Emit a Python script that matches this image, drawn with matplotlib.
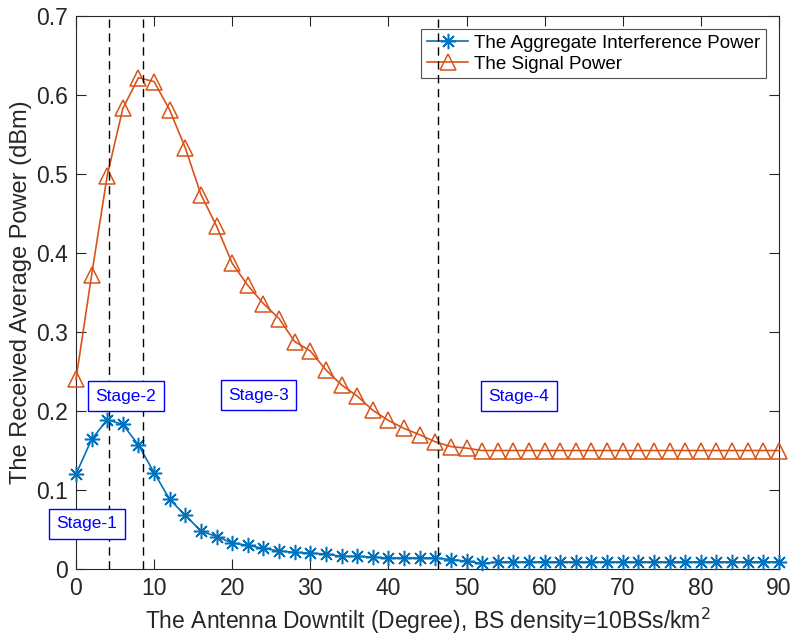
import numpy as np
import matplotlib.pyplot as plt

plt.rcParams['font.family'] = ['Liberation Sans', 'DejaVu Sans']

tilt = np.arange(0, 92, 2)

interference = [0.120, 0.164, 0.189, 0.183, 0.157, 0.122, 0.088, 0.068,
                0.048, 0.041, 0.033, 0.030, 0.026, 0.023, 0.021, 0.020,
                0.019, 0.016, 0.016, 0.015, 0.014, 0.014, 0.014, 0.014,
                0.012, 0.010, 0.007] + [0.009] * 19

signal = [0.240, 0.372, 0.498, 0.583, 0.622, 0.617, 0.581, 0.533,
          0.474, 0.434, 0.387, 0.359, 0.336, 0.317, 0.288, 0.276,
          0.252, 0.233, 0.219, 0.201, 0.188, 0.178, 0.170, 0.161,
          0.155, 0.153] + [0.150] * 20

stage_bounds = [4.2, 8.6, 46.4]
stage_names = ['Stage-1', 'Stage-2', 'Stage-3', 'Stage-4']
stage_pos = [(1.4, 0.057), (6.4, 0.219), (23.4, 0.220), (56.7, 0.219)]

fig = plt.figure(figsize=(7.93, 6.42), dpi=100)
ax = fig.add_axes([0.0958, 0.1137, 0.8865, 0.8613])

ax.plot(tilt, interference, color='#0072BD', lw=1.2, marker=(8, 2, 0),
        ms=11, mew=1.1, label='The Aggregate Interference Power',
        clip_on=False, zorder=3)
ax.plot(tilt, signal, color='#D95319', lw=1.2, marker='^', ms=12,
        mfc='none', mew=1.1, label='The Signal Power', clip_on=False,
        zorder=3)

for b in stage_bounds:
    ax.axvline(b, color='k', ls=(0, (6, 4)), lw=1.0, zorder=6)

for name, (sx, sy) in zip(stage_names, stage_pos):
    ax.text(sx, sy, name, color='blue', fontsize=12.5, ha='center',
            va='center', zorder=7, clip_on=False,
            bbox=dict(boxstyle='square,pad=0.42', fc='white', ec='blue', lw=1.0))

ax.set_xlim(0, 90)
ax.set_ylim(0, 0.7)
ax.set_xticks(np.arange(0, 100, 10))
ax.set_yticks(np.arange(0, 0.8, 0.1))
ax.set_yticklabels(['0', '0.1', '0.2', '0.3', '0.4', '0.5', '0.6', '0.7'])
ax.tick_params(direction='in', length=7, width=0.8, top=True, right=True,
               labelsize=16.5, colors='#262626', pad=6)
for sp in ax.spines.values():
    sp.set_color('#262626')
    sp.set_linewidth(0.8)

ax.set_xlabel('The Antenna Downtilt (Degree), BS density=10BSs/km$^2$',
              fontsize=16.5, color='#262626', labelpad=4)
ax.set_ylabel('The Received Average Power (dBm)', fontsize=17,
              color='#262626', labelpad=3)

leg = ax.legend(loc='upper right', fontsize=13.5, frameon=True, fancybox=False,
                edgecolor='#262626', borderaxespad=0.7, handlelength=2.2,
                borderpad=0.3, labelspacing=0.2, handletextpad=0.3)
leg.get_frame().set_linewidth(0.8)

fig.savefig('out.png', dpi=100)
